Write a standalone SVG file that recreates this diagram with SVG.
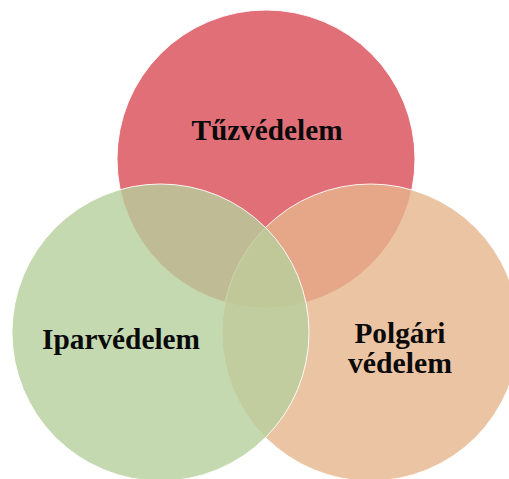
<svg xmlns="http://www.w3.org/2000/svg" width="509" height="479" viewBox="0 0 509 479">
<style>
.c{stroke:#ffffff;stroke-width:1;stroke-opacity:0.9}
.t{font-family:"Liberation Serif","DejaVu Serif",serif;font-weight:bold;font-size:30px;fill:#0a0a0a;text-anchor:middle}
</style>
<rect width="509" height="479" fill="#ffffff"/>
<g id="tuzvedelem">
<circle class="c" cx="266" cy="159" r="149" fill="#E06F78"/>
</g>
<g id="polgari-vedelem">
<circle class="c" cx="370.5" cy="332.5" r="148.5" fill="#E6B58C" fill-opacity="0.8"/>
</g>
<g id="iparvedelem">
<circle class="c" cx="160.5" cy="332.5" r="148.5" fill="#B7D09C" fill-opacity="0.8"/>
</g>
<g id="labels">
<text class="t" x="267" y="140" textLength="151" lengthAdjust="spacingAndGlyphs">Tűzvédelem</text>
<text class="t" x="121" y="349" textLength="158" lengthAdjust="spacingAndGlyphs">Iparvédelem</text>
<text class="t" x="400" y="343" textLength="91" lengthAdjust="spacingAndGlyphs">Polgári</text>
<text class="t" x="400" y="373" textLength="104" lengthAdjust="spacingAndGlyphs">védelem</text>
</g>
<g id="connectors"></g>
</svg>
